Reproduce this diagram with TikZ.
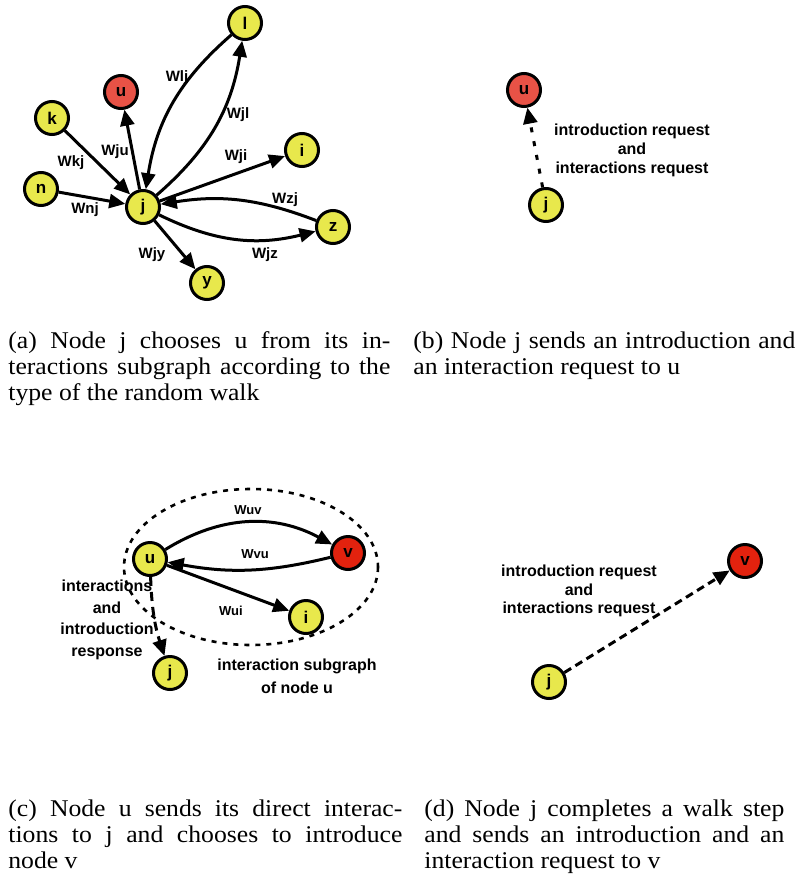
\documentclass[tikz,border=0pt]{standalone}
\usepackage{fontspec}
\setmainfont{Liberation Serif}
\setsansfont{Liberation Sans}
\newfontfamily\capfont[FakeStretch=1.07]{Liberation Serif}
\usetikzlibrary{arrows.meta}

\definecolor{nodeyellow}{RGB}{232,232,76}
\definecolor{nodered}{RGB}{232,82,70}
\definecolor{nodedeep}{RGB}{226,34,14}

\begin{document}
\begin{tikzpicture}[x=0.5pt,y=-0.5pt,>={Triangle[length=8pt,width=7pt]},
	vertex/.style={circle,draw,line width=1.5pt,fill=nodeyellow,minimum size=16.5pt,inner sep=0pt,font=\sffamily\bfseries\fontsize{8.5}{8.5}\selectfont},
	picked/.style={vertex,fill=nodered},
	chosen/.style={vertex,fill=nodedeep},
	link/.style={->,line width=1.5pt},
	req/.style={->,line width=1.5pt,dash pattern=on 2.5pt off 4.5pt},
	weight/.style={font=\sffamily\bfseries\fontsize{7.5}{8}\selectfont,inner sep=0pt},
	note/.style={font=\sffamily\bfseries\fontsize{8}{9.5}\selectfont,align=center,inner sep=0pt},
	caption/.style={font=\capfont\fontsize{12}{13}\selectfont,align=justify,inner sep=0pt,anchor=north west}]

\useasboundingbox (0,0) rectangle (796,889);

% (a) the interactions subgraph of j
\node[vertex] (al) at (245,23) {l};
\node[picked] (au) at (121,92) {u};
\node[vertex] (ak) at (52,118) {k};
\node[vertex] (ai) at (302,150) {i};
\node[vertex] (an) at (41,189) {n};
\node[vertex] (aj) at (143,207) {j};
\node[vertex] (az) at (333,227) {z};
\node[vertex] (ay) at (207,283) {y};

\draw[link] (al) to[bend right=20] (aj);
\draw[link] (aj) to[bend right=20] (al);
\draw[link] (aj) -- (au);
\draw[link] (ak) -- (aj);
\draw[link] (an) -- (aj);
\draw[link] (aj) -- (ai);
\draw[link] (az) to[bend right=15] (aj);
\draw[link] (aj) to[bend right=20] (az);
\draw[link] (aj) -- (ay);

\node[weight] (wlj) at (177,78) {Wlj};
\node[weight] (wjl) at (238,115) {Wjl};
\node[weight] (wju) at (115,152) {Wju};
\node[weight] (wkj) at (71,163) {Wkj};
\node[weight] (wji) at (236,157) {Wji};
\node[weight] (wnj) at (85,210) {Wnj};
\node[weight] (wzj) at (285,200) {Wzj};
\node[weight] (wjz) at (265,255) {Wjz};
\node[weight] (wjy) at (152,255) {Wjy};

% (b) request from j to u
\node[picked] (bu) at (524,90) {u};
\node[vertex] (bj) at (546,205) {j};
\draw[req] (bj) -- (bu);
\node[note] (bmsg) at (632,150) {introduction request\\and\\interactions request};

% (c) u answers and introduces v
\draw[line width=1.3pt,dash pattern=on 2.5pt off 3pt] (251,567) ellipse [x radius=127,y radius=78];
\node[vertex] (cu) at (150,559) {u};
\node[chosen] (cv) at (348,553) {v};
\node[vertex] (ci) at (306,617) {i};
\node[vertex] (cj) at (170,673) {j};

\draw[link] (cu) to[bend left=30] (cv);
\draw[link] (cv) to[bend left=12] (cu);
\draw[link] (cu) -- (ci);
\draw[->,line width=1.5pt,dash pattern=on 4.5pt off 3pt] (cu) to[bend right=8] (cj);

\node[weight,font=\sffamily\bfseries\fontsize{6.5}{8}\selectfont] (wuv) at (248,510) {Wuv};
\node[weight,font=\sffamily\bfseries\fontsize{6.5}{8}\selectfont] (wvu) at (255,554) {Wvu};
\node[weight,font=\sffamily\bfseries\fontsize{6.5}{8}\selectfont] (wui) at (231,611) {Wui};

\node[note,font=\sffamily\bfseries\fontsize{8}{10.8}\selectfont] (cresp) at (107,620) {interactions\\and\\introduction\\response};
\node[note,font=\sffamily\bfseries\fontsize{8}{11.5}\selectfont] (csub) at (297,676) {interaction subgraph\\of node u};

% (d) j moves on to v
\node[chosen] (dv) at (745,561) {v};
\node[vertex] (dj) at (549,682) {j};
\draw[->,line width=1.5pt,dash pattern=on 4pt off 2.5pt] (dj) -- (dv);
\node[note,font=\sffamily\bfseries\fontsize{8}{9.3}\selectfont] (dmsg) at (579,591) {introduction request\\and\\interactions request};

% captions
\node[caption,text width=191pt] (capa) at (8,331) {(a) Node j chooses u from its in-\linebreak teractions subgraph according to the\linebreak type of the random walk};
\node[caption,text width=191pt] (capb) at (413,331) {(b) Node j sends an introduction and\linebreak an interaction request to u};
\node[caption,text width=197pt] (capc) at (8,799) {(c) Node u sends its direct interac-\linebreak tions to j and chooses to introduce\linebreak node v};
\node[caption,text width=180pt] (capd) at (424,799) {(d) Node j completes a walk step\linebreak and sends an introduction and an\linebreak interaction request to v};
\end{tikzpicture}
\end{document}
